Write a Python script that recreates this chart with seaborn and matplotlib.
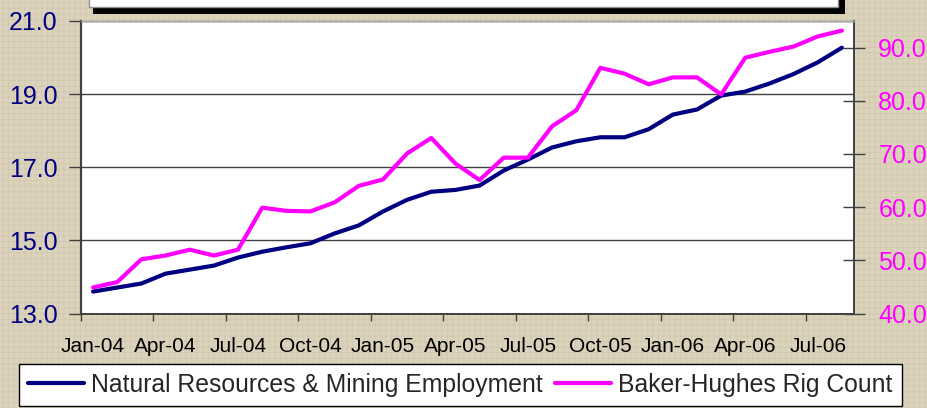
import matplotlib
matplotlib.use("Agg")
import matplotlib.pyplot as plt
from matplotlib.patches import Rectangle
import seaborn as sns
import pandas as pd

# ---- data ----
months = ["Jan-04", "Feb-04", "Mar-04", "Apr-04", "May-04", "Jun-04", "Jul-04", "Aug-04",
          "Sep-04", "Oct-04", "Nov-04", "Dec-04", "Jan-05", "Feb-05", "Mar-05", "Apr-05",
          "May-05", "Jun-05", "Jul-05", "Aug-05", "Sep-05", "Oct-05", "Nov-05", "Dec-05",
          "Jan-06", "Feb-06", "Mar-06", "Apr-06", "May-06", "Jun-06", "Jul-06", "Aug-06"]
employment = [13.60, 13.71, 13.82, 14.09, 14.20, 14.31, 14.53, 14.69, 14.81, 14.92, 15.19,
              15.41, 15.79, 16.11, 16.33, 16.38, 16.50, 16.91, 17.21, 17.54, 17.71, 17.82,
              17.82, 18.04, 18.44, 18.58, 18.96, 19.07, 19.29, 19.55, 19.87, 20.27]
rig_count = [44.9, 45.9, 50.2, 50.9, 52.0, 50.9, 52.0, 59.9, 59.3, 59.2, 60.9, 64.0, 65.2,
             70.1, 73.0, 68.2, 65.1, 69.3, 69.3, 75.2, 78.2, 86.2, 85.1, 83.1, 84.4, 84.4,
             81.2, 88.1, 89.2, 90.2, 92.1, 93.2]
x_tick_labels = ["Jan-04", "Apr-04", "Jul-04", "Oct-04", "Jan-05", "Apr-05", "Jul-05",
                 "Oct-05", "Jan-06", "Apr-06", "Jul-06"]
left_ticks = [13.0, 15.0, 17.0, 19.0, 21.0]
right_ticks = [40.0, 50.0, 60.0, 70.0, 80.0, 90.0]
series_names = ["Natural Resources & Mining Employment", "Baker-Hughes Rig Count"]

df = pd.DataFrame({"month": months, "pos": range(len(months)),
                   "employment": employment, "rigs": rig_count})

sns.set_style("white")
plt.rcParams["font.family"] = ["Liberation Sans", "DejaVu Sans"]

W, H = 927, 408
fig = plt.figure(figsize=(W / 100, H / 100), dpi=100)
fig.patch.set_facecolor("#dcd3bd")

# subtle woven background texture
plt.rcParams["hatch.linewidth"] = 0.5
bg = Rectangle((0, 0), 1, 1, transform=fig.transFigure, facecolor="#dcd3bd",
               edgecolor="#d1c6ad", hatch="+++", linewidth=0, zorder=-10)
fig.patches.append(bg)

def px(x, y):
    return x / W, 1 - y / H

# title box (cut off at the top) with shadow
fig.patches.append(Rectangle(px(93, 14), (845 - 93) / W, 24 / H, transform=fig.transFigure,
                             facecolor="black", edgecolor="none", zorder=1))
fig.patches.append(Rectangle(px(89, 7), (838 - 89) / W, 20 / H, transform=fig.transFigure,
                             facecolor="white", edgecolor="#909090", linewidth=1, zorder=2))

left, top, right, bottom = 81, 21, 854, 313.5
ax = fig.add_axes([left / W, 1 - bottom / H, (right - left) / W, (bottom - top) / H])
ax.set_facecolor("white")
ax2 = ax.twinx()

sns.lineplot(data=df, x="pos", y="employment", ax=ax, color="#000080", linewidth=3.0,
             label=series_names[0], legend=False)
sns.lineplot(data=df, x="pos", y="rigs", ax=ax2, color="#FF00FF", linewidth=3.0,
             label=series_names[1], legend=False)
for a in (ax, ax2):
    lg = a.get_legend()
    if lg is not None:
        lg.remove()

ax.set_xlim(-0.5, len(months) - 0.5)
ax.set_ylim(13, 21)
ax2.set_ylim(40, 95)

# left axis
ax.set_yticks(left_ticks)
ax.set_yticklabels([f"{v:.1f}" for v in left_ticks])
ax.tick_params(axis="y", which="major", left=True, direction="out", length=9, width=1,
               color="#404040", labelsize=18, labelcolor="#000080", pad=8)
ax.yaxis.grid(True, color="#404040", linewidth=1)
ax.xaxis.grid(False)

# x axis: labels at category centers every 3 months, ticks at boundaries
label_pos = [months.index(m) for m in x_tick_labels]
ax.set_xticks(label_pos)
ax.set_xticklabels(x_tick_labels)
ax.set_xticks([p - 0.5 for p in label_pos], minor=True)
ax.tick_params(axis="x", which="major", length=0, labelsize=15, labelcolor="black", pad=17)
ax.tick_params(axis="x", which="minor", bottom=True, direction="out", length=5, width=1,
               color="#404040")
ax.set_xlabel("")
ax.set_ylabel("")

# right axis
ax2.set_yticks(right_ticks)
ax2.set_yticklabels([f"{v:.1f}" for v in right_ticks])
ax2.tick_params(axis="y", which="major", right=True, direction="inout", length=16, width=1,
                color="#404040", labelsize=18, labelcolor="#FF00FF", pad=9.5)
ax2.set_ylabel("")
ax2.grid(False)

for a in (ax, ax2):
    a.spines["left"].set_color("#404040")
    a.spines["left"].set_linewidth(1.5)
    a.spines["bottom"].set_color("#404040")
    a.spines["bottom"].set_linewidth(1.2)
    a.spines["right"].set_color("#404040")
    a.spines["right"].set_linewidth(1.2)
    a.spines["top"].set_color("#a8a8a8")
    a.spines["top"].set_linewidth(1)

# legend
handles = [ax.get_lines()[0], ax2.get_lines()[0]]
leg = fig.legend(handles, series_names, loc="upper left", bbox_to_anchor=px(19, 364),
                 ncol=2, fontsize=17.8, frameon=True, fancybox=False, framealpha=1,
                 edgecolor="black", borderpad=0.37, handlelength=2.25, handletextpad=0.3,
                 columnspacing=0.5, borderaxespad=0)
leg.get_frame().set_linewidth(1)
leg.get_frame().set_facecolor("white")

fig.savefig("out.png", dpi=100, facecolor=fig.get_facecolor())
